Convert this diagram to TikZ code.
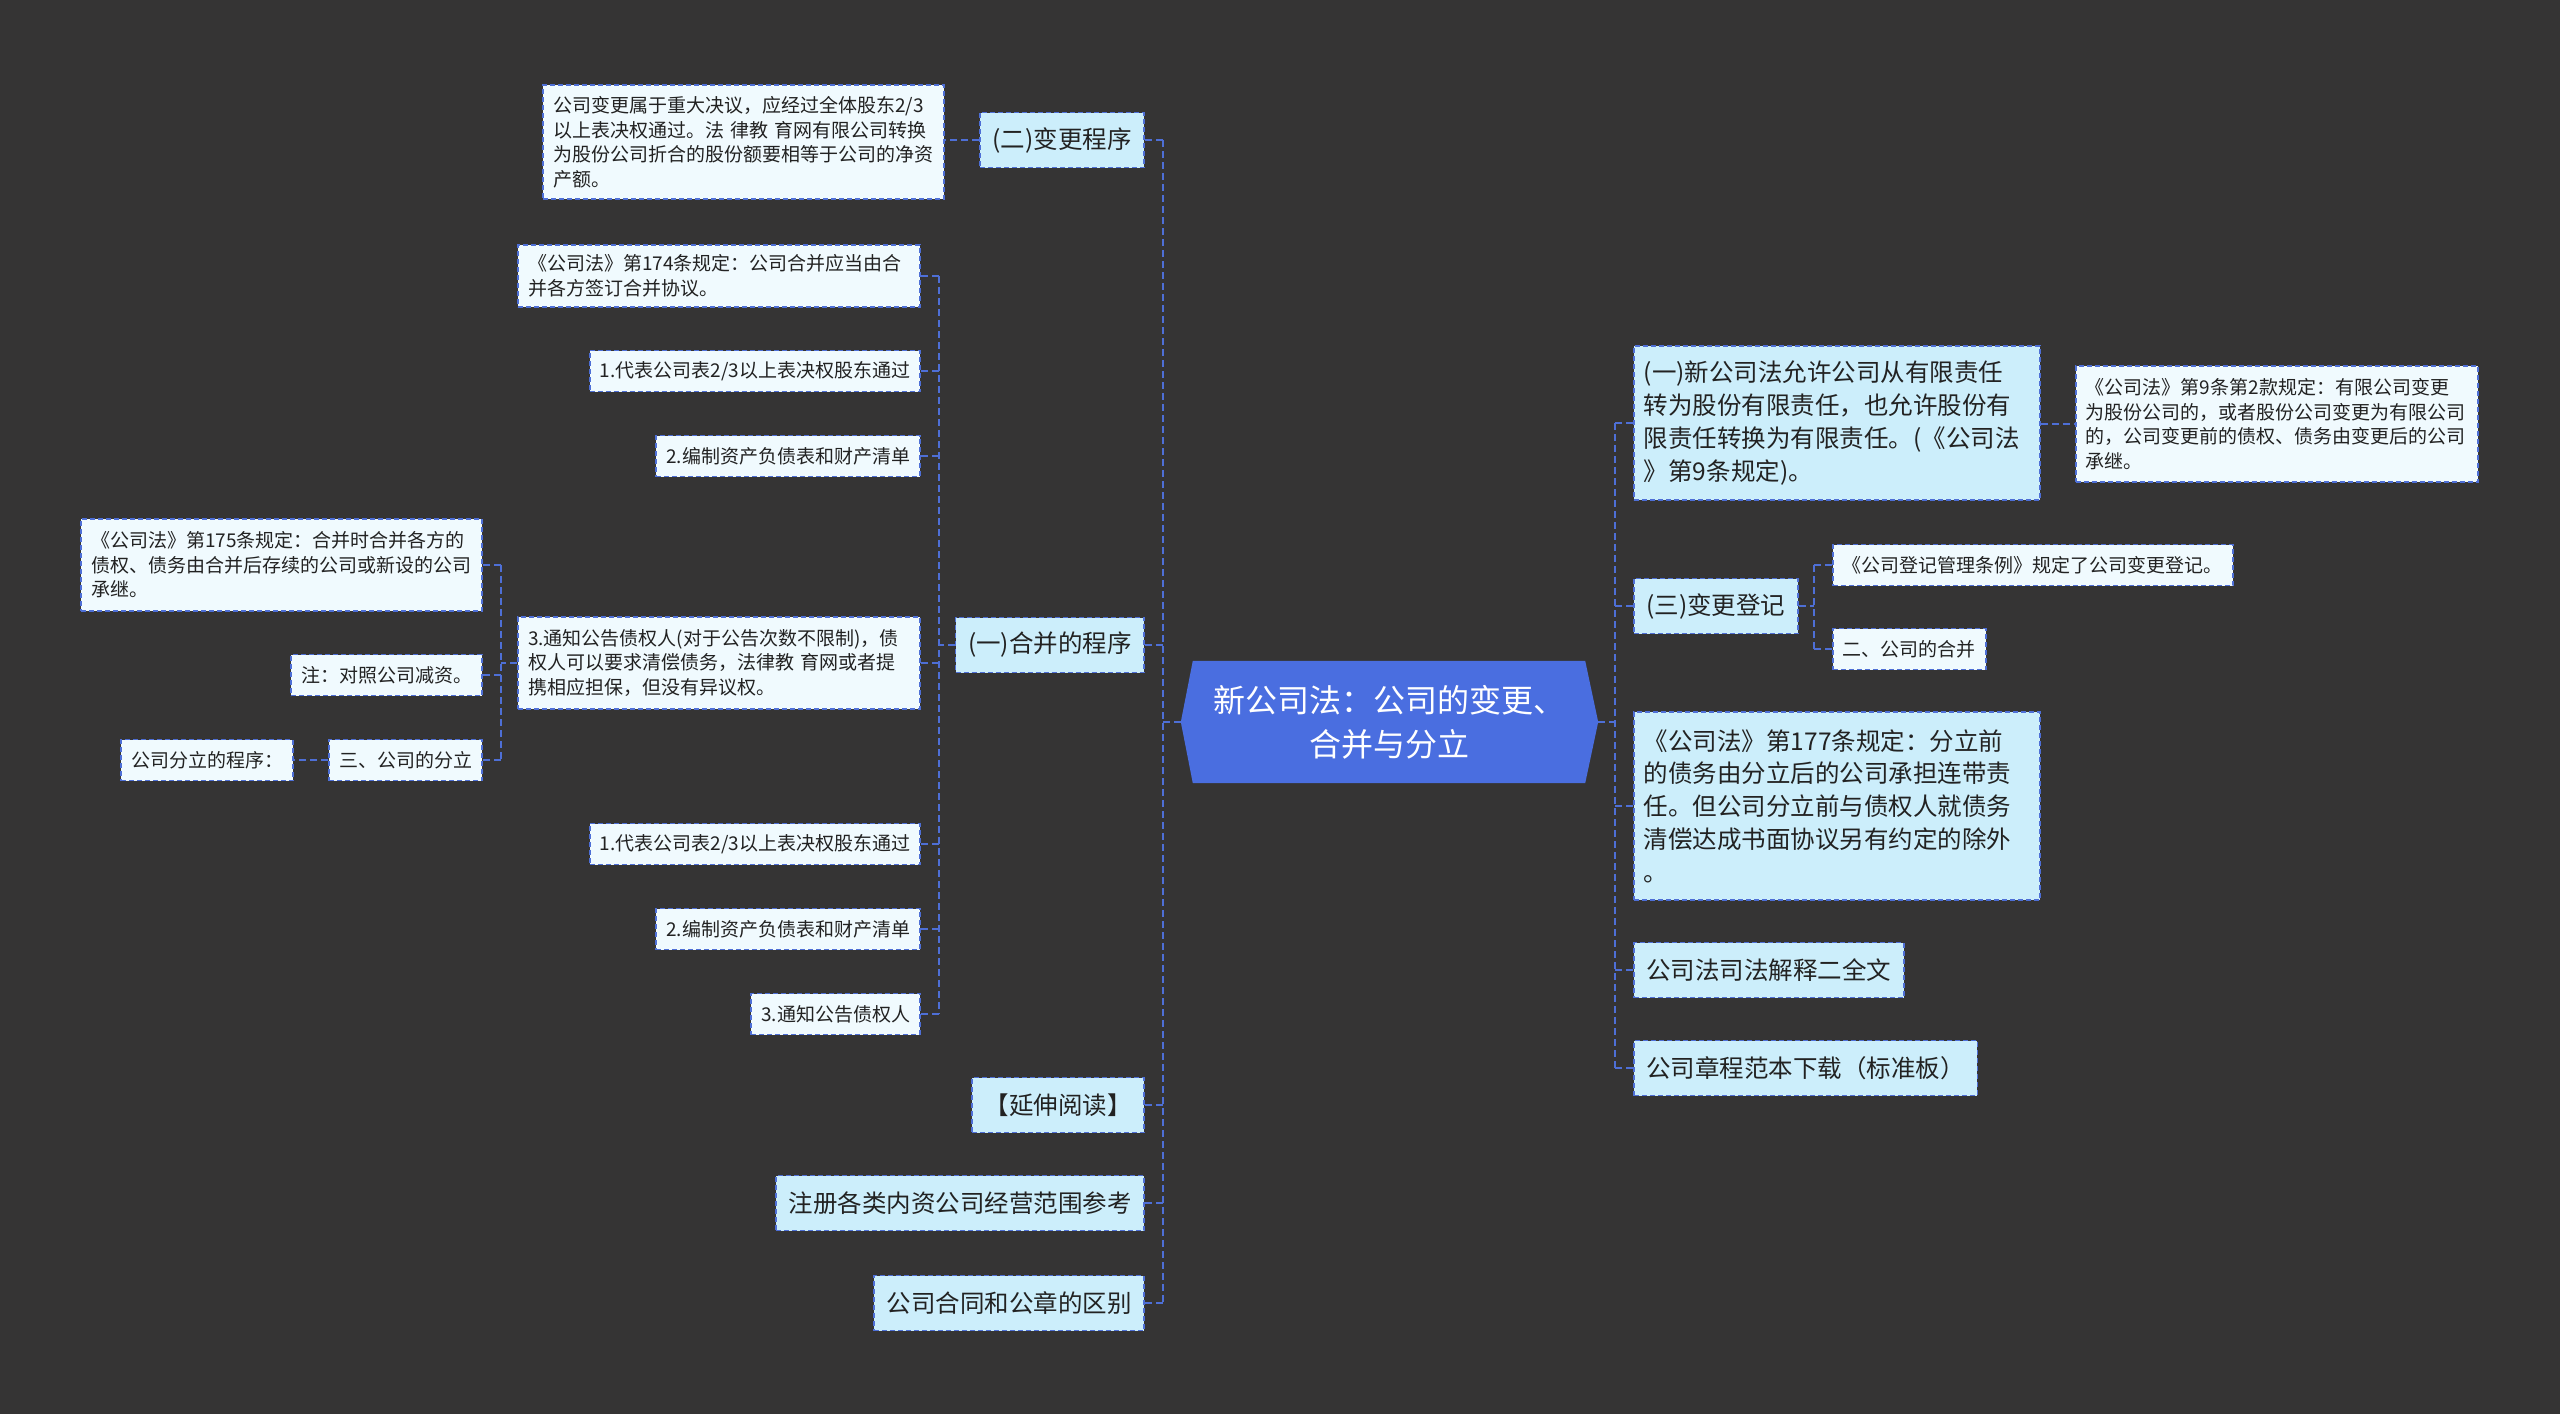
\documentclass[tikz,border=0pt]{standalone}
\usepackage{fontspec}
\setmainfont{Noto Sans CJK SC}
\definecolor{bg}{HTML}{353434}
\definecolor{lineblue}{HTML}{4E6FD6}
\definecolor{lvfill}{HTML}{CCEEFB}
\definecolor{leaffill}{HTML}{F0FAFE}
\definecolor{rootfill}{HTML}{4A6EE0}
\definecolor{txt}{HTML}{222222}
\begin{document}
\begin{tikzpicture}[x=1pt,y=-1pt,
  conn/.style={draw=lineblue, line width=2.6pt, dash pattern=on 7pt off 4pt},
  box/.style={draw=lineblue, line width=1.8pt, dash pattern=on 5pt off 3pt, text=txt, inner ysep=4pt},
  lvone/.style={box, fill=lvfill, font=\fontsize{24.5}{32.7}\selectfont, minimum height=55pt, inner xsep=12.5pt},
  leafbox/.style={box, fill=leaffill, font=\fontsize{19}{24.5}\selectfont, minimum height=41pt, inner xsep=10pt},
]
\useasboundingbox (0,0) rectangle (2560,1414);
\fill[bg] (0,0) rectangle (2560,1414);

% root
\node[minimum width=417pt, minimum height=122pt, inner sep=0pt] (root) at (1389.5,722) {};
\fill[rootfill] ([xshift=12pt]root.north west) -- ([xshift=-13pt]root.north east) -- (root.east)
  -- ([xshift=-13pt]root.south east) -- ([xshift=12pt]root.south west) -- (root.west) -- cycle;
\node[text=white, font=\fontsize{32}{44}\selectfont, align=center] (roottext) at (root.center) {新公司法：公司的变更、\\合并与分立};

% trunk coordinates
\coordinate (tL) at (1163,0);
\coordinate (tR) at (1615,0);
\coordinate (tM) at (939,0);
\coordinate (tN) at (501,0);
\coordinate (tS) at (1814,0);

% left level one
\node[lvone, anchor=east] (b2) at (1145,140) {(二)变更程序};
\node[lvone, anchor=east] (b1) at (1145,645) {(一)合并的程序};
\node[lvone, anchor=east] (b3) at (1145,1105) {【延伸阅读】};
\node[lvone, anchor=east] (b4) at (1145,1203) {注册各类内资公司经营范围参考};
\node[lvone, anchor=east] (b5) at (1145,1303) {公司合同和公章的区别};

% leaf of b2
\node[leafbox, anchor=east, align=left, text width=381pt, minimum height=114pt] (b2a) at (945,142)
 {公司变更属于重大决议，应经过全体股东2/3\\以上表决权通过。法 律教 育网有限公司转换\\为股份公司折合的股份额要相等于公司的净资\\产额。};

% children of b1
\node[leafbox, anchor=east, align=left, text width=382pt, minimum height=62pt] (c1) at (921,276)
 {《公司法》第174条规定：公司合并应当由合\\并各方签订合并协议。};
\node[leafbox, anchor=east] (c2) at (921,371) {1.代表公司表2/3以上表决权股东通过};
\node[leafbox, anchor=east] (c3) at (921,456) {2.编制资产负债表和财产清单};
\node[leafbox, anchor=east, align=left, text width=382pt, minimum height=92pt] (c4) at (921,663)
 {3.通知公告债权人(对于公告次数不限制)，债\\权人可以要求清偿债务，法律教 育网或者提\\携相应担保，但没有异议权。};
\node[leafbox, anchor=east] (c5) at (921,844) {1.代表公司表2/3以上表决权股东通过};
\node[leafbox, anchor=east] (c6) at (921,929) {2.编制资产负债表和财产清单};
\node[leafbox, anchor=east] (c7) at (921,1014) {3.通知公告债权人};

% children of c4
\node[leafbox, anchor=east, align=left, text width=381pt, minimum height=92pt] (d1) at (483,565)
 {《公司法》第175条规定：合并时合并各方的\\债权、债务由合并后存续的公司或新设的公司\\承继。};
\node[leafbox, anchor=east] (d2) at (483,675) {注：对照公司减资。};
\node[leafbox, anchor=east] (d3) at (483,760) {三、公司的分立};
\node[leafbox, anchor=east] (d3a) at (294,760) {公司分立的程序：};

% right level one
\node[lvone, anchor=west, align=left, text width=386pt, inner xsep=10pt, minimum height=154pt] (r1) at (1633,423)
 {(一)新公司法允许公司从有限责任\\转为股份有限责任，也允许股份有\\限责任转换为有限责任。(《公司法\\》第9条规定)。};
\node[leafbox, anchor=west, align=left, text width=382pt, minimum height=116pt] (r1a) at (2075,424)
 {《公司法》第9条第2款规定：有限公司变更\\为股份公司的，或者股份公司变更为有限公司\\的，公司变更前的债权、债务由变更后的公司\\承继。};
\node[lvone, anchor=west] (r2) at (1633,606) {(三)变更登记};
\node[leafbox, anchor=west] (r2a) at (1832,565) {《公司登记管理条例》规定了公司变更登记。};
\node[leafbox, anchor=west] (r2b) at (1832,649) {二、公司的合并};
\node[lvone, anchor=west, align=left, text width=386pt, inner xsep=10pt, minimum height=188pt] (r3) at (1633,806)
 {《公司法》第177条规定：分立前\\的债务由分立后的公司承担连带责\\任。但公司分立前与债权人就债务\\清偿达成书面协议另有约定的除外\\。};
\node[lvone, anchor=west] (r4) at (1633,970) {公司法司法解释二全文};
\node[lvone, anchor=west] (r5) at (1633,1068) {公司章程范本下载（标准板）};

% connectors: root
\draw[conn] (root.west) -- (root.west -| tL);
\draw[conn] (root.east) -- (root.east -| tR);
\draw[conn] (b2.east -| tL) -- (b5.east -| tL);
\foreach \n in {b1,b2,b3,b4,b5} \draw[conn] (\n.east) -- (\n.east -| tL);
\draw[conn] (r1.west -| tR) -- (r5.west -| tR);
\foreach \n in {r1,r2,r3,r4,r5} \draw[conn] (\n.west) -- (\n.west -| tR);

% b2 leaf
\draw[conn] (b2.west) -- (b2.west -| b2a.east);

% b1 children
\draw[conn] (b1.west) -- (b1.west -| tM);
\draw[conn] (c1.east -| tM) -- (c7.east -| tM);
\foreach \n in {c1,c2,c3,c4,c5,c6,c7} \draw[conn] (\n.east) -- (\n.east -| tM);

% c4 children
\draw[conn] (c4.west) -- (c4.west -| tN);
\draw[conn] (d1.east -| tN) -- (d3.east -| tN);
\foreach \n in {d1,d2,d3} \draw[conn] (\n.east) -- (\n.east -| tN);
\draw[conn] (d3.west) -- (d3a.east);

% right sub
\draw[conn] (r1.east |- r1a.west) -- (r1a.west);
\draw[conn] (r2.east) -- (r2.east -| tS);
\draw[conn] (r2a.west -| tS) -- (r2b.west -| tS);
\foreach \n in {r2a,r2b} \draw[conn] (\n.west) -- (\n.west -| tS);
\end{tikzpicture}
\end{document}
